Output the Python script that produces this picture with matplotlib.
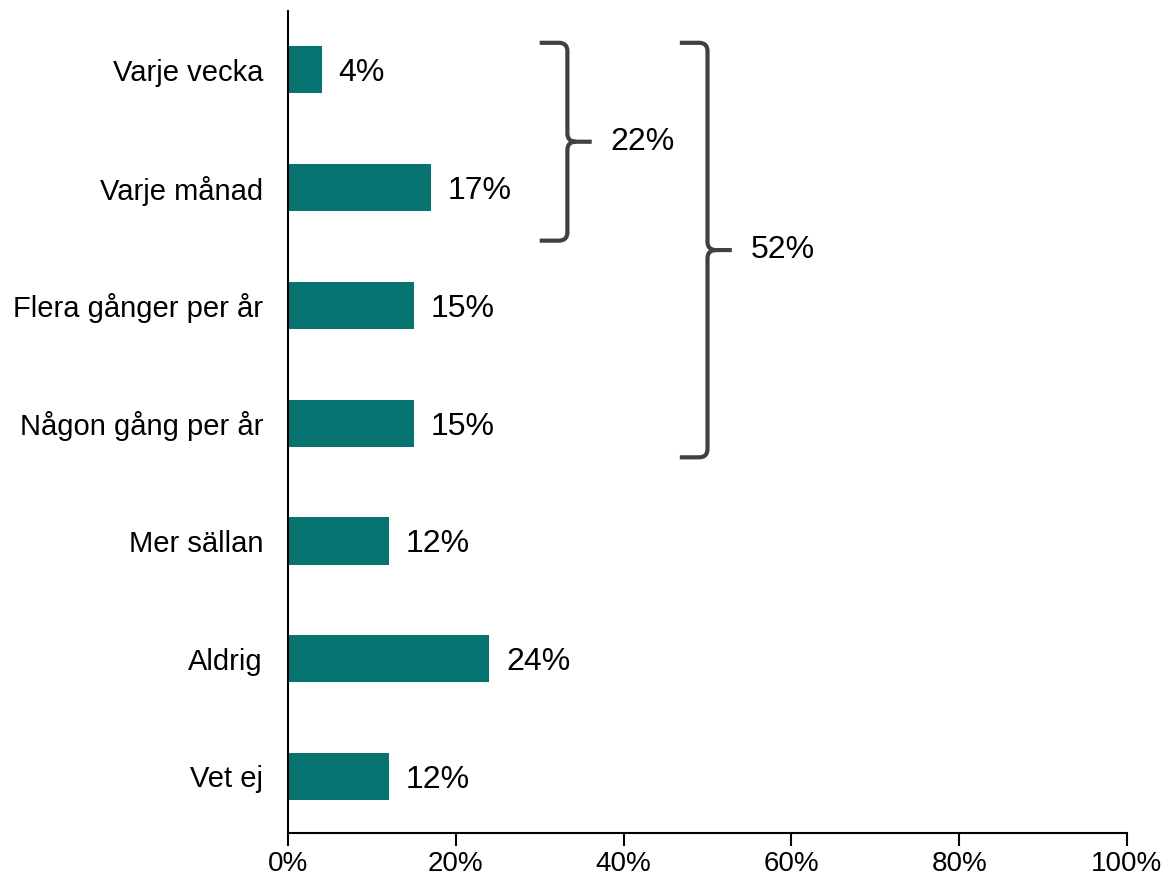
import matplotlib
matplotlib.use("Agg")
import matplotlib.pyplot as plt
import matplotlib.ticker as mticker
from matplotlib.path import Path
from matplotlib.patches import PathPatch

plt.rcParams["font.family"] = ["Liberation Sans", "DejaVu Sans"]

# ── DATA ──────────────────────────────────────────────────────────────────────
categories = [
    "Varje vecka",
    "Varje månad",
    "Flera gånger per år",
    "Någon gång per år",
    "Mer sällan",
    "Aldrig",
    "Vet ej",
]
values = [4, 17, 15, 15, 12, 24, 12]
value_labels = ["4%", "17%", "15%", "15%", "12%", "24%", "12%"]
x_ticks = [0, 20, 40, 60, 80, 100]

# brace groups: label, top / bottom in category units, x of brace arms
brace_labels = ["22%", "52%"]
brace_top = [-0.23, -0.23]
brace_bottom = [1.45, 3.29]
brace_x = [30.0, 46.7]

BAR_COLOR = "#077370"
BRACE_COLOR = "#404040"


def draw_brace(ax, y_top, y_bot, x0, label):
    """Right-facing curly brace from y_top to y_bot, arms starting at x0."""
    x1 = x0 + 3.3        # vertical stroke
    xt = x1 + 2.9        # tip
    ym = (y_top + y_bot) / 2
    rx, ry = 1.0, 0.07
    verts = [
        (x0, y_top), (x1 - rx, y_top), (x1, y_top), (x1, y_top + ry),
        (x1, ym - ry), (x1, ym), (x1 + rx, ym), (xt, ym),
        (x1 + rx, ym), (x1, ym), (x1, ym + ry),
        (x1, y_bot - ry), (x1, y_bot), (x1 - rx, y_bot), (x0, y_bot),
    ]
    codes = [
        Path.MOVETO, Path.LINETO, Path.CURVE3, Path.CURVE3,
        Path.LINETO, Path.CURVE3, Path.CURVE3, Path.LINETO,
        Path.MOVETO, Path.CURVE3, Path.CURVE3,
        Path.LINETO, Path.CURVE3, Path.CURVE3, Path.LINETO,
    ]
    patch = PathPatch(Path(verts, codes), facecolor="none", edgecolor=BRACE_COLOR,
                      linewidth=3, capstyle="butt", joinstyle="round", clip_on=False)
    ax.add_patch(patch)
    ax.text(xt + 2.2, ym, label, va="center", ha="left", fontsize=23, color="black")


fig = plt.figure(figsize=(11.67, 8.8), dpi=100)
ax = fig.add_axes([0.2468, 0.0534, 0.7189, 0.9341])

ypos = list(range(len(categories)))
bars = ax.barh(ypos, values, height=0.4, color=BAR_COLOR)
for t in ax.bar_label(bars, labels=value_labels, padding=12, fontsize=23):
    t.set_va("center_baseline")

ax.set_xlim(0, 100)
ax.set_ylim(6.48, -0.5)
ax.set_yticks(ypos)
ax.set_yticklabels(categories, fontsize=21)
ax.set_xticks(x_ticks)
ax.xaxis.set_major_formatter(mticker.FuncFormatter(lambda v, _: f"{v:.0f}%"))
ax.tick_params(axis="x", labelsize=20, length=9, width=1.5, direction="out", pad=4)
ax.tick_params(axis="y", length=0, pad=18)
ax.spines[["top", "right"]].set_visible(False)
ax.spines["left"].set_linewidth(1.5)
ax.spines["bottom"].set_linewidth(1.5)

for label, top, bottom, x0 in zip(brace_labels, brace_top, brace_bottom, brace_x):
    draw_brace(ax, top, bottom, x0, label)

fig.savefig("out.png", dpi=100)
